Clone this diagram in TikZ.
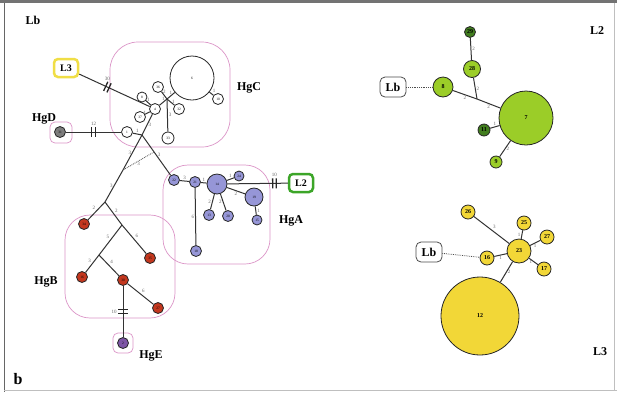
\documentclass[tikz,border=0pt]{standalone}
\usepackage{fontspec}
\setmainfont{Liberation Serif}
\usetikzlibrary{positioning, decorations.markings}
\definecolor{hgpink}{RGB}{220,150,200}
\definecolor{hgalav}{RGB}{150,150,215}
\definecolor{hgbred}{RGB}{195,55,30}
\definecolor{hgepur}{RGB}{125,85,165}
\definecolor{hgdgray}{RGB}{125,125,125}
\definecolor{ltgreen}{RGB}{155,205,40}
\definecolor{dkgreen}{RGB}{65,125,30}
\definecolor{yel}{RGB}{242,215,55}
\definecolor{boxyel}{RGB}{240,222,70}
\definecolor{boxgrn}{RGB}{60,165,40}
\tikzstyle{hap} = [circle, draw=black!85, line width=0.8pt, inner sep=0pt, font=\fontsize{3.5}{3.5}\selectfont]
\tikzstyle{bighap} = [circle, draw=black!85, line width=0.8pt, inner sep=0pt, font=\bfseries\fontsize{6}{6}\selectfont]
\tikzstyle{hgbox} = [draw=hgpink, line width=0.7pt]
\tikzstyle{lbox} = [rectangle, rounded corners=4pt, line width=2.5pt, fill=white, minimum width=24pt, minimum height=18pt, inner sep=1pt, font=\bfseries\fontsize{10}{10}\selectfont]
\tikzstyle{lbbox} = [rectangle, rounded corners=5pt, draw=black!70, line width=0.8pt, fill=white, minimum width=26pt, minimum height=20pt, inner sep=1pt, font=\bfseries\fontsize{12}{12}\selectfont]
\tikzstyle{hg} = [font=\bfseries\fontsize{12}{12}\selectfont]
\tikzstyle{elbl} = [font=\fontsize{5}{5}\selectfont, text=black!60, inner sep=1pt]
\tikzstyle{link} = [line width=1pt, black!80]
\tikzset{hatchat/.style={postaction={decorate, decoration={markings, mark=at position #1 with {\draw[line width=1.3pt, black!85] (-1.8pt,-5pt) -- (-1.8pt,5pt) (1.8pt,-5pt) -- (1.8pt,5pt);}}}}}

\begin{document}
\begin{tikzpicture}[x=1pt, y=-1pt]
\useasboundingbox (0,0) rectangle (617,392);
\fill[white] (0,0) rectangle (617,392);
\fill[black!55] (0,0) rectangle (617,3);
\draw[black!60, line width=1pt] (4,3) -- (4,392);
\draw[black!25, line width=0.6pt] (4,390) -- (617,390);
\draw[black!25, line width=0.6pt] (614,3) -- (614,390);

\draw[hgbox, rounded corners=28pt] (110,42) rectangle (230,147);
\draw[hgbox, rounded corners=5pt] (50,122) rectangle (72,143);
\draw[hgbox, rounded corners=25pt] (163,165) rectangle (270,264);
\draw[hgbox, rounded corners=25pt] (65,215) rectangle (175,318);
\draw[hgbox, rounded corners=5pt] (113,333) rectangle (133,353);

\node[hg] (lbLb) at (33,20) {Lb};
\node[hg] (lbHgC) at (249,88) {HgC};
\node[hg] (lbHgD) at (44,119) {HgD};
\node[hg] (lbHgA) at (291,221) {HgA};
\node[hg] (lbHgB) at (46,282) {HgB};
\node[hg] (lbHgE) at (151,356) {HgE};
\node[hg] (lbL2) at (597,31) {L2};
\node[hg] (lbL3) at (600,352) {L3};
\node[font=\bfseries\fontsize{16}{16}\selectfont] (lbb) at (18,379) {b};

\node[lbox, draw=boxyel] (boxL3) at (66,68) {L3};
\node[lbox, draw=boxgrn] (boxL2) at (301,183) {L2};

\node[hap, fill=white, minimum size=44pt] (c6) at (192,78) {6};
\node[hap, fill=white, minimum size=11pt] (c10) at (218,99) {10};
\node[hap, fill=white, minimum size=11pt] (c36) at (158,87) {36};
\node[hap, fill=white, minimum size=10pt] (c8) at (142,97) {8};
\node[hap, fill=white, minimum size=11pt] (c4) at (155,109) {4};
\node[hap, fill=white, minimum size=11pt] (c32) at (179,109) {32};
\node[hap, fill=white, minimum size=11pt] (c37) at (140,117) {37};
\node[hap, fill=white, minimum size=12pt] (c33) at (168,138) {33};
\node[hap, fill=white, minimum size=11pt] (c1) at (127,132) {1};
\coordinate (jc) at (167,99);
\coordinate (jm) at (142,135);
\node[hap, fill=hgdgray, minimum size=11pt] (d31) at (60,132) {31};

\node[hap, fill=hgalav, minimum size=11pt] (a22) at (174,180) {22};
\node[hap, fill=hgalav, minimum size=11pt] (a21) at (195,182) {21};
\node[hap, fill=hgalav, minimum size=20pt] (a14) at (217,184) {14};
\node[hap, fill=hgalav, minimum size=10pt] (a24) at (239,176) {24};
\node[hap, fill=hgalav, minimum size=18pt] (a19) at (254,197) {19};
\node[hap, fill=hgalav, minimum size=10pt] (a15) at (257,220) {15};
\node[hap, fill=hgalav, minimum size=11pt] (a13) at (209,215) {13};
\node[hap, fill=hgalav, minimum size=11pt] (a20) at (228,216) {20};
\node[hap, fill=hgalav, minimum size=11pt] (a18) at (196,251) {18};

\coordinate (jb1) at (105,202);
\coordinate (jb2) at (122,225);
\coordinate (jb3) at (99,255);
\coordinate (dq) at (123,170);
\coordinate (dp) at (154,152);
\node[hap, fill=hgbred, minimum size=11pt] (b34) at (84,224) {34};
\node[hap, fill=hgbred, minimum size=11pt] (b35) at (150,258) {35};
\node[hap, fill=hgbred, minimum size=11pt] (b16) at (82,277) {16};
\node[hap, fill=hgbred, minimum size=11pt] (b30) at (123,280) {30};
\node[hap, fill=hgbred, minimum size=11pt] (b27) at (158,308) {27};
\node[hap, fill=hgepur, minimum size=11pt] (e2) at (123,343) {2};

\draw[link, hatchat=0.4] (boxL3) -- node[elbl, pos=0.4, above=5pt] {30} (c4);
\draw[link, hatchat=0.5] (c1) -- node[elbl, above=5pt] {12} (d31);
\draw[link, hatchat=0.78] (a14) -- node[elbl, pos=0.78, above=5pt] {10} (boxL2);
\draw[link, hatchat=0.5] (b30) -- node[elbl, pos=0.5, left=5pt] {10} (e2);

\draw[link] (c4) -- node[elbl, above] {1} (c8);
\draw[link] (c4) -- node[elbl, left] {1} (c37);
\draw[link] (c4) -- node[elbl, above] {1} (jc);
\draw[link] (jc) -- node[elbl, above] {2} (c36);
\draw[link] (jc) -- node[elbl, above] {1} (c6);
\draw[link] (jc) -- node[elbl, right] {1} (c32);
\draw[link] (jc) -- node[elbl, right] {3} (c33);
\draw[link] (c6) -- node[elbl, above right] {1} (c10);
\draw[link] (c4) -- node[elbl, right] {3} (jm);
\draw[link] (c1) -- node[elbl, above] {1} (jm);
\draw[link] (jm) -- node[elbl, right] {3} (a22);
\draw[link] (jm) -- node[elbl, left] {3} (dq);
\draw[link] (dq) -- node[elbl, left] {3} (jb1);
\draw[black!70, densely dotted, line width=0.8pt] (dp) -- node[elbl, below] {3} (dq);

\draw[link] (a22) -- node[elbl, above] {3} (a21);
\draw[link] (a21) -- node[elbl, above] {1} (a14);
\draw[link] (a14) -- node[elbl, above] {1} (a24);
\draw[link] (a14) -- node[elbl, below] {2} (a19);
\draw[link] (a19) -- node[elbl, right] {1} (a15);
\draw[link] (a14) -- node[elbl, left] {2} (a13);
\draw[link] (a14) -- node[elbl, left] {2} (a20);
\draw[link] (a21) -- node[elbl, left] {6} (a18);

\draw[link] (jb1) -- node[elbl, above left] {2} (b34);
\draw[link] (jb1) -- node[elbl, above right] {2} (jb2);
\draw[link] (jb2) -- node[elbl, above left] {5} (jb3);
\draw[link] (jb2) -- node[elbl, above right] {6} (b35);
\draw[link] (jb3) -- node[elbl, above left] {3} (b16);
\draw[link] (jb3) -- node[elbl, above right] {4} (b30);
\draw[link] (b30) -- node[elbl, above right] {6} (b27);

\node[lbbox] (lb2) at (393,87) {Lb};
\node[bighap, fill=dkgreen, minimum size=11pt] (g29) at (470,32) {29};
\node[bighap, fill=ltgreen, minimum size=17pt] (g28) at (472,69) {28};
\node[bighap, fill=ltgreen, minimum size=20pt] (g8) at (443,87) {8};
\node[bighap, fill=ltgreen, minimum size=54pt] (g7) at (526,118) {7};
\node[bighap, fill=dkgreen, minimum size=12pt] (g11) at (484,130) {11};
\node[bighap, fill=ltgreen, minimum size=12pt] (g9) at (496,162) {9};
\coordinate (jg) at (477,99);
\draw[black!70, densely dotted, line width=0.8pt] (lb2) -- (g8);
\draw[link] (g8) -- node[elbl, below] {2} (jg);
\draw[link] (jg) -- node[elbl, below] {2} (g7);
\draw[link] (jg) -- node[elbl, right] {2} (g28);
\draw[link] (g28) -- node[elbl, right] {2} (g29);
\draw[link] (g7) -- node[elbl, above] {1} (g11);
\draw[link] (g7) -- node[elbl, right] {2} (g9);

\node[lbbox] (lb3) at (429,252) {Lb};
\node[bighap, fill=yel, minimum size=14pt] (y26) at (468,212) {26};
\node[bighap, fill=yel, minimum size=24pt] (y23) at (519,251) {23};
\node[bighap, fill=yel, minimum size=14pt] (y25) at (524,223) {25};
\node[bighap, fill=yel, minimum size=14pt] (y27) at (547,237) {27};
\node[bighap, fill=yel, minimum size=14pt] (y17) at (544,269) {17};
\node[bighap, fill=yel, minimum size=14pt] (y16) at (487,258) {16};
\node[bighap, fill=yel, minimum size=78pt] (y12) at (480,316) {12};
\draw[black!70, densely dotted, line width=0.8pt] (lb3) -- (y16);
\draw[link] (y16) -- node[elbl, below] {1} (y23);
\draw[link] (y26) -- node[elbl, above right] {3} (y23);
\draw[link] (y23) -- node[elbl, left] {1} (y25);
\draw[link] (y23) -- node[elbl, below] {1} (y27);
\draw[link] (y23) -- node[elbl, left] {1} (y17);
\draw[link] (y23) -- node[elbl, right] {2} (y12);
\end{tikzpicture}
\end{document}
